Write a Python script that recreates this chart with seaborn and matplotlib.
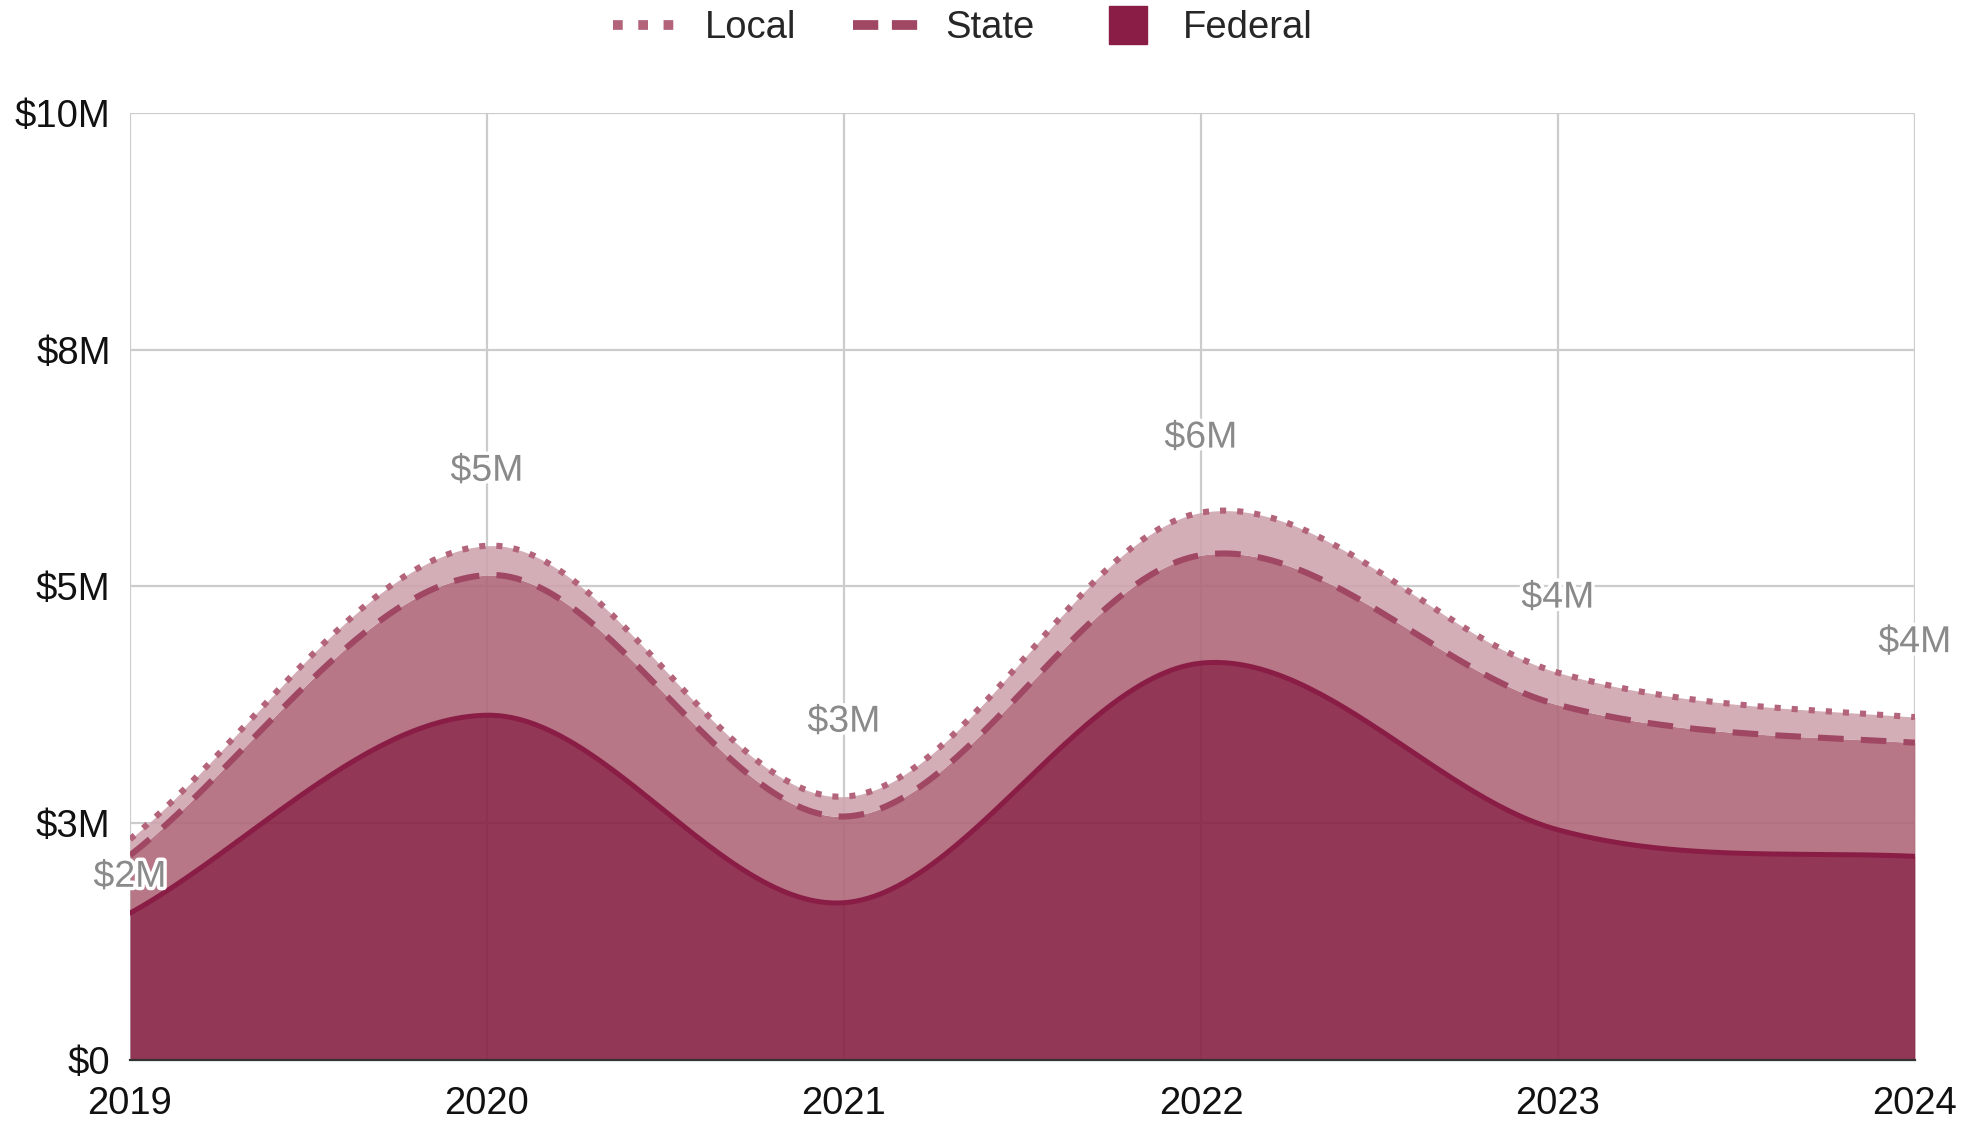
import numpy as np
import pandas as pd
import seaborn as sns
import matplotlib.pyplot as plt
import matplotlib.patheffects as pe
from matplotlib.lines import Line2D

# values in $M
years = [2019, 2020, 2021, 2022, 2023, 2024]
federal = [1.55, 3.64, 1.66, 4.19, 2.43, 2.15]
state = [0.61, 1.48, 0.91, 1.14, 1.32, 1.20]
local = [0.17, 0.31, 0.21, 0.45, 0.34, 0.27]
total_labels = ["$2M", "$5M", "$3M", "$6M", "$4M", "$4M"]
ytick_vals = [0, 2.5, 5, 7.5, 10]
ytick_labels = ["$0", "$3M", "$5M", "$8M", "$10M"]

FED_LINE, FED_FILL = "#8a1d45", "#872143"
STATE_LINE, STATE_FILL = "#a04863", "#b0687a"
LOCAL_LINE, LOCAL_FILL = "#b3647a", "#cfa5af"


def smooth(x, y, n=60):
    # cubic hermite through the points (like the "function" curve style)
    x = np.asarray(x, float)
    y = np.asarray(y, float)
    m = np.zeros_like(y)
    m[1:-1] = (y[2:] - y[:-2]) / (x[2:] - x[:-2])
    m[0] = (y[1] - y[0]) / (x[1] - x[0])
    m[-1] = 0.6 * (y[-1] - y[-2]) / (x[-1] - x[-2])
    xs, ys = [], []
    for i in range(len(x) - 1):
        h = x[i + 1] - x[i]
        t = np.linspace(0, 1, n, endpoint=(i == len(x) - 2))
        h00 = 2 * t**3 - 3 * t**2 + 1
        h10 = t**3 - 2 * t**2 + t
        h01 = -2 * t**3 + 3 * t**2
        h11 = t**3 - t**2
        xs.append(x[i] + t * h)
        ys.append(h00 * y[i] + h10 * h * m[i] + h01 * y[i + 1] + h11 * h * m[i + 1])
    return np.concatenate(xs), np.concatenate(ys)


def main():
    sns.set_theme(style="whitegrid")
    plt.rcParams['font.family'] = ['Liberation Sans', 'DejaVu Sans']

    fig, ax = plt.subplots(figsize=(19.64, 11.24), dpi=100)
    fig.subplots_adjust(left=0.0662, right=0.975, bottom=0.057, top=0.8995)

    cum_fed = np.array(federal)
    cum_state = cum_fed + np.array(state)
    cum_local = cum_state + np.array(local)

    xs, y_fed = smooth(years, cum_fed)
    _, y_state = smooth(years, cum_state)
    _, y_local = smooth(years, cum_local)

    df = pd.DataFrame({"year": xs, "fed": y_fed, "state": y_state, "local": y_local})

    ax.fill_between(df["year"], 0, df["fed"], color=FED_FILL, alpha=0.9, lw=0, zorder=2)
    ax.fill_between(df["year"], df["fed"], df["state"], color=STATE_FILL, alpha=0.9, lw=0, zorder=2)
    ax.fill_between(df["year"], df["state"], df["local"], color=LOCAL_FILL, alpha=0.9, lw=0, zorder=2)

    sns.lineplot(data=df, x="year", y="fed", ax=ax, color=FED_LINE, lw=3.6, zorder=3)
    sns.lineplot(data=df, x="year", y="state", ax=ax, color=STATE_LINE, lw=4.4,
                 linestyle=(0, (4.2, 2.8)), zorder=3)
    sns.lineplot(data=df, x="year", y="local", ax=ax, color=LOCAL_LINE, lw=4.4,
                 linestyle=(0, (1.0, 1.8)), zorder=3)

    # total labels
    for i, (yr, tot) in enumerate(zip(years, cum_local)):
        off = -27 if i == 0 else 54
        ax.annotate(total_labels[i], (yr, tot), xytext=(0, off), textcoords="offset points",
                    ha="center", va="center", fontsize=27, color="#8a8a8a", zorder=5,
                    path_effects=[pe.withStroke(linewidth=5, foreground="white")])

    ax.set_xlim(2019, 2024)
    ax.set_ylim(0, 10)
    ax.set_xticks(years)
    ax.set_xticklabels([str(y) for y in years])
    ax.set_yticks(ytick_vals)
    ax.set_yticklabels(ytick_labels)
    ax.tick_params(axis="x", labelsize=27.5, pad=19, length=0, colors="#111111")
    ax.tick_params(axis="y", labelsize=27.5, pad=14, length=0, colors="#111111")
    ax.set_xlabel("")
    ax.set_ylabel("")
    ax.grid(True, color="#cccccc", lw=1.6, zorder=0)
    ax.set_axisbelow(True)
    for s in ["left", "right", "top"]:
        ax.spines[s].set_visible(False)
    ax.spines["bottom"].set_color("#333333")
    ax.spines["bottom"].set_linewidth(1.6)
    ax.spines["bottom"].set_zorder(4)

    handles = [
        Line2D([], [], color=LOCAL_LINE, lw=7, linestyle=(0, (1.0, 1.6))),
        Line2D([], [], color=STATE_LINE, lw=7, linestyle=(0, (2.6, 1.4))),
        Line2D([], [], color=FED_LINE, marker="s", ms=28, ls="none"),
    ]
    fig.legend(handles, ["Local", "State", "Federal"], loc="center",
               bbox_to_anchor=(963 / 1964, 1 - 28 / 1124), ncol=3, frameon=False,
               fontsize=27.5, handlelength=1.9, handletextpad=0.5,
               columnspacing=1.5)

    fig.savefig("out.png", dpi=100)
    plt.close(fig)


if __name__ == "__main__":
    main()
